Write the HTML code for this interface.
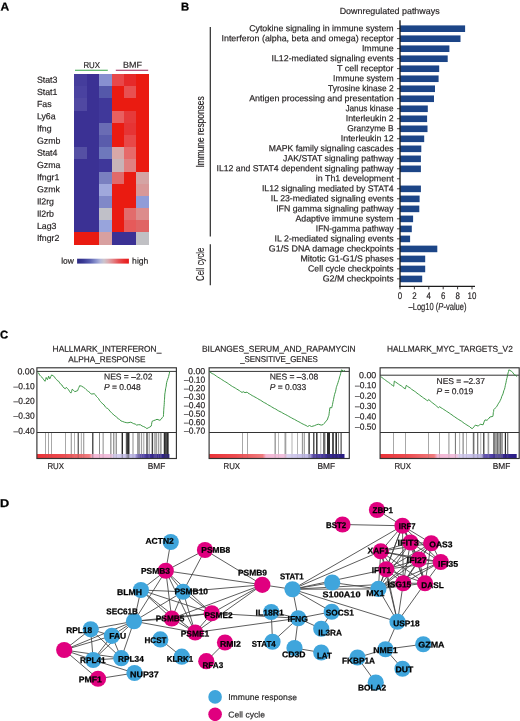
<!DOCTYPE html>
<html lang="en">
<head>
<meta charset="utf-8">
<title>Figure</title>
<style>
html,body{margin:0;padding:0;background:#fff;}
body{width:520px;height:721px;overflow:hidden;}
svg{display:block;font-family:"Liberation Sans",sans-serif;}
text{stroke:#231f20;stroke-width:.18px;}
text[font-weight=bold],g[font-weight=bold] text{stroke:#000;stroke-width:.25px;}
</style>
</head>
<body>
<svg width="520" height="721" viewBox="0 0 520 721">
<rect width="520" height="721" fill="#fff"/>
<defs>
<linearGradient id="cb" x1="0" x2="1" y1="0" y2="0">
<stop offset="0" stop-color="#ea3238"/><stop offset="0.2" stop-color="#ec4c50"/><stop offset="0.395" stop-color="#f07c7e"/><stop offset="0.42" stop-color="#f4b6d2"/><stop offset="0.56" stop-color="#f0c0de"/><stop offset="0.58" stop-color="#d8d0f0"/><stop offset="0.74" stop-color="#bcb6e4"/><stop offset="0.765" stop-color="#6858b6"/><stop offset="0.86" stop-color="#3c2c9a"/><stop offset="1" stop-color="#2a1c86"/>
</linearGradient>
<linearGradient id="lg" x1="0" x2="1" y1="0" y2="0">
<stop offset="0" stop-color="#2a2880"/><stop offset="0.12" stop-color="#3a3a96"/><stop offset="0.25" stop-color="#5a60b0"/><stop offset="0.36" stop-color="#8890cc"/><stop offset="0.45" stop-color="#b4b8da"/><stop offset="0.52" stop-color="#ccc4cc"/><stop offset="0.6" stop-color="#dcaab0"/><stop offset="0.7" stop-color="#e28084"/><stop offset="0.8" stop-color="#e65054"/><stop offset="0.9" stop-color="#e83030"/><stop offset="1" stop-color="#e8181a"/>
</linearGradient>
</defs>
<g id="panelA">
<text x="0.4" y="10.5" font-size="11.3" font-weight="bold" textLength="8.7" lengthAdjust="spacingAndGlyphs" fill="#000" transform="rotate(0.03 0.4 10.5)">A</text>
<text x="83.4" y="67.7" font-size="8.5" textLength="16.6" lengthAdjust="spacingAndGlyphs" fill="#231f20" transform="rotate(0.03 83.4 67.7)">RUX</text>
<text x="123" y="67.7" font-size="8.5" textLength="18.9" lengthAdjust="spacingAndGlyphs" fill="#231f20" transform="rotate(0.03 123 67.7)">BMF</text>
<line x1="75" y1="70.3" x2="107.8" y2="70.3" stroke="#36a546" stroke-width="1.1"/>
<line x1="115.8" y1="70.3" x2="148.2" y2="70.3" stroke="#9e1c50" stroke-width="1.1"/>
<g shape-rendering="crispEdges">
<rect x="74.10" y="74.10" width="12.77" height="12.48" fill="#453d9c"/>
<rect x="86.57" y="74.10" width="12.77" height="12.48" fill="#3b3194"/>
<rect x="99.04" y="74.10" width="12.77" height="12.48" fill="#8890d0"/>
<rect x="111.51" y="74.10" width="12.77" height="12.48" fill="#e8484a"/>
<rect x="123.98" y="74.10" width="12.77" height="12.48" fill="#e62a2a"/>
<rect x="136.45" y="74.10" width="12.77" height="12.48" fill="#ea1b11"/>
<rect x="74.10" y="86.28" width="12.77" height="12.48" fill="#4a42a0"/>
<rect x="86.57" y="86.28" width="12.77" height="12.48" fill="#3b3194"/>
<rect x="99.04" y="86.28" width="12.77" height="12.48" fill="#5558aa"/>
<rect x="111.51" y="86.28" width="12.77" height="12.48" fill="#ea1b11"/>
<rect x="123.98" y="86.28" width="12.77" height="12.48" fill="#e85050"/>
<rect x="136.45" y="86.28" width="12.77" height="12.48" fill="#ea1b11"/>
<rect x="74.10" y="98.46" width="12.77" height="12.48" fill="#5048a2"/>
<rect x="86.57" y="98.46" width="12.77" height="12.48" fill="#3b3194"/>
<rect x="99.04" y="98.46" width="12.77" height="12.48" fill="#40389a"/>
<rect x="111.51" y="98.46" width="12.77" height="12.48" fill="#ea1b11"/>
<rect x="123.98" y="98.46" width="12.77" height="12.48" fill="#ea1b11"/>
<rect x="136.45" y="98.46" width="12.77" height="12.48" fill="#ea1b11"/>
<rect x="74.10" y="110.64" width="12.77" height="12.48" fill="#3b3194"/>
<rect x="86.57" y="110.64" width="12.77" height="12.48" fill="#3b3194"/>
<rect x="99.04" y="110.64" width="12.77" height="12.48" fill="#40389a"/>
<rect x="111.51" y="110.64" width="12.77" height="12.48" fill="#e86060"/>
<rect x="123.98" y="110.64" width="12.77" height="12.48" fill="#e63a3a"/>
<rect x="136.45" y="110.64" width="12.77" height="12.48" fill="#ea1b11"/>
<rect x="74.10" y="122.82" width="12.77" height="12.48" fill="#3b3194"/>
<rect x="86.57" y="122.82" width="12.77" height="12.48" fill="#3b3194"/>
<rect x="99.04" y="122.82" width="12.77" height="12.48" fill="#6a6cb4"/>
<rect x="111.51" y="122.82" width="12.77" height="12.48" fill="#ea1b11"/>
<rect x="123.98" y="122.82" width="12.77" height="12.48" fill="#e63434"/>
<rect x="136.45" y="122.82" width="12.77" height="12.48" fill="#ea1b11"/>
<rect x="74.10" y="135.00" width="12.77" height="12.48" fill="#3b3194"/>
<rect x="86.57" y="135.00" width="12.77" height="12.48" fill="#3b3194"/>
<rect x="99.04" y="135.00" width="12.77" height="12.48" fill="#5a5cac"/>
<rect x="111.51" y="135.00" width="12.77" height="12.48" fill="#ea1b11"/>
<rect x="123.98" y="135.00" width="12.77" height="12.48" fill="#e84848"/>
<rect x="136.45" y="135.00" width="12.77" height="12.48" fill="#ea1b11"/>
<rect x="74.10" y="147.18" width="12.77" height="12.48" fill="#5550a4"/>
<rect x="86.57" y="147.18" width="12.77" height="12.48" fill="#3b3194"/>
<rect x="99.04" y="147.18" width="12.77" height="12.48" fill="#6e78bc"/>
<rect x="111.51" y="147.18" width="12.77" height="12.48" fill="#d8a8a8"/>
<rect x="123.98" y="147.18" width="12.77" height="12.48" fill="#e66a6a"/>
<rect x="136.45" y="147.18" width="12.77" height="12.48" fill="#ea1b11"/>
<rect x="74.10" y="159.36" width="12.77" height="12.48" fill="#3b3194"/>
<rect x="86.57" y="159.36" width="12.77" height="12.48" fill="#3b3194"/>
<rect x="99.04" y="159.36" width="12.77" height="12.48" fill="#3f379a"/>
<rect x="111.51" y="159.36" width="12.77" height="12.48" fill="#c8b4b8"/>
<rect x="123.98" y="159.36" width="12.77" height="12.48" fill="#e08080"/>
<rect x="136.45" y="159.36" width="12.77" height="12.48" fill="#ea1b11"/>
<rect x="74.10" y="171.54" width="12.77" height="12.48" fill="#3b3194"/>
<rect x="86.57" y="171.54" width="12.77" height="12.48" fill="#3b3194"/>
<rect x="99.04" y="171.54" width="12.77" height="12.48" fill="#7a80c0"/>
<rect x="111.51" y="171.54" width="12.77" height="12.48" fill="#e06a6a"/>
<rect x="123.98" y="171.54" width="12.77" height="12.48" fill="#ea1b11"/>
<rect x="136.45" y="171.54" width="12.77" height="12.48" fill="#d4a4a4"/>
<rect x="74.10" y="183.72" width="12.77" height="12.48" fill="#3b3194"/>
<rect x="86.57" y="183.72" width="12.77" height="12.48" fill="#3b3194"/>
<rect x="99.04" y="183.72" width="12.77" height="12.48" fill="#a0a8dc"/>
<rect x="111.51" y="183.72" width="12.77" height="12.48" fill="#ea1b11"/>
<rect x="123.98" y="183.72" width="12.77" height="12.48" fill="#ea1b11"/>
<rect x="136.45" y="183.72" width="12.77" height="12.48" fill="#d89898"/>
<rect x="74.10" y="195.90" width="12.77" height="12.48" fill="#3b3194"/>
<rect x="86.57" y="195.90" width="12.77" height="12.48" fill="#3b3194"/>
<rect x="99.04" y="195.90" width="12.77" height="12.48" fill="#8088c8"/>
<rect x="111.51" y="195.90" width="12.77" height="12.48" fill="#ea1b11"/>
<rect x="123.98" y="195.90" width="12.77" height="12.48" fill="#ea1b11"/>
<rect x="136.45" y="195.90" width="12.77" height="12.48" fill="#909cd8"/>
<rect x="74.10" y="208.08" width="12.77" height="12.48" fill="#3b3194"/>
<rect x="86.57" y="208.08" width="12.77" height="12.48" fill="#3b3194"/>
<rect x="99.04" y="208.08" width="12.77" height="12.48" fill="#c0c0c8"/>
<rect x="111.51" y="208.08" width="12.77" height="12.48" fill="#ea1b11"/>
<rect x="123.98" y="208.08" width="12.77" height="12.48" fill="#e26c6c"/>
<rect x="136.45" y="208.08" width="12.77" height="12.48" fill="#dc8c8c"/>
<rect x="74.10" y="220.26" width="12.77" height="12.48" fill="#3b3194"/>
<rect x="86.57" y="220.26" width="12.77" height="12.48" fill="#3b3194"/>
<rect x="99.04" y="220.26" width="12.77" height="12.48" fill="#98a4dc"/>
<rect x="111.51" y="220.26" width="12.77" height="12.48" fill="#ea1b11"/>
<rect x="123.98" y="220.26" width="12.77" height="12.48" fill="#e65a5a"/>
<rect x="136.45" y="220.26" width="12.77" height="12.48" fill="#e06464"/>
<rect x="74.10" y="232.44" width="12.77" height="12.48" fill="#ea1b11"/>
<rect x="86.57" y="232.44" width="12.77" height="12.48" fill="#ea1b11"/>
<rect x="99.04" y="232.44" width="12.77" height="12.48" fill="#d8a0a0"/>
<rect x="111.51" y="232.44" width="12.77" height="12.48" fill="#3b3194"/>
<rect x="123.98" y="232.44" width="12.77" height="12.48" fill="#3b3194"/>
<rect x="136.45" y="232.44" width="12.77" height="12.48" fill="#c0c0c4"/>
</g>
<text x="36.9" y="82.75" font-size="8.8" fill="#231f20" transform="rotate(0.03 36.9 82.75)">Stat3</text>
<text x="36.9" y="94.93" font-size="8.8" fill="#231f20" transform="rotate(0.03 36.9 94.93)">Stat1</text>
<text x="36.9" y="107.11" font-size="8.8" fill="#231f20" transform="rotate(0.03 36.9 107.11)">Fas</text>
<text x="36.9" y="119.29" font-size="8.8" fill="#231f20" transform="rotate(0.03 36.9 119.29)">Ly6a</text>
<text x="36.9" y="131.47" font-size="8.8" fill="#231f20" transform="rotate(0.03 36.9 131.47)">Ifng</text>
<text x="36.9" y="143.65" font-size="8.8" fill="#231f20" transform="rotate(0.03 36.9 143.65)">Gzmb</text>
<text x="36.9" y="155.83" font-size="8.8" fill="#231f20" transform="rotate(0.03 36.9 155.83)">Stat4</text>
<text x="36.9" y="168.01" font-size="8.8" fill="#231f20" transform="rotate(0.03 36.9 168.01)">Gzma</text>
<text x="36.9" y="180.19" font-size="8.8" fill="#231f20" transform="rotate(0.03 36.9 180.19)">Ifngr1</text>
<text x="36.9" y="192.37" font-size="8.8" fill="#231f20" transform="rotate(0.03 36.9 192.37)">Gzmk</text>
<text x="36.9" y="204.55" font-size="8.8" fill="#231f20" transform="rotate(0.03 36.9 204.55)">Il2rg</text>
<text x="36.9" y="216.73" font-size="8.8" fill="#231f20" transform="rotate(0.03 36.9 216.73)">Il2rb</text>
<text x="36.9" y="228.91" font-size="8.8" fill="#231f20" transform="rotate(0.03 36.9 228.91)">Lag3</text>
<text x="36.9" y="241.09" font-size="8.8" fill="#231f20" transform="rotate(0.03 36.9 241.09)">Ifngr2</text>
<text x="61.2" y="263.7" font-size="8.6" textLength="12.7" lengthAdjust="spacingAndGlyphs" fill="#231f20" transform="rotate(0.03 61.2 263.7)">low</text>
<text x="132.1" y="263.7" font-size="8.6" textLength="16.3" lengthAdjust="spacingAndGlyphs" fill="#231f20" transform="rotate(0.03 132.1 263.7)">high</text>
<rect x="77.1" y="258.7" width="51.8" height="4.9" fill="url(#lg)"/>
</g>
<g id="panelB">
<text x="181.0" y="10.5" font-size="11.3" font-weight="bold" fill="#000" transform="rotate(0.03 181.0 10.5)">B</text>
<text x="339.7" y="14.0" font-size="8.8" textLength="99.9" lengthAdjust="spacingAndGlyphs" fill="#231f20" transform="rotate(0.03 339.7 14.0)">Downregulated pathways</text>
<text x="249.2" y="31.2" font-size="8.8" textLength="144.4" lengthAdjust="spacingAndGlyphs" fill="#231f20" transform="rotate(0.03 249.2 31.2)">Cytokine signaling in immune system</text>
<line x1="397" y1="28.60" x2="400" y2="28.60" stroke="#231f20" stroke-width="0.8"/>
<rect x="400" y="25.40" width="65.10" height="6.6" fill="#1c4587"/>
<text x="221.5" y="41.21" font-size="8.8" textLength="172.1" lengthAdjust="spacingAndGlyphs" fill="#231f20" transform="rotate(0.03 221.5 41.21)">Interferon (alpha, beta and omega) receptor</text>
<line x1="397" y1="38.61" x2="400" y2="38.61" stroke="#231f20" stroke-width="0.8"/>
<rect x="400" y="35.41" width="60.50" height="6.6" fill="#1c4587"/>
<text x="361.9" y="51.22" font-size="8.8" textLength="31.7" lengthAdjust="spacingAndGlyphs" fill="#231f20" transform="rotate(0.03 361.9 51.22)">Immune</text>
<line x1="397" y1="48.62" x2="400" y2="48.62" stroke="#231f20" stroke-width="0.8"/>
<rect x="400" y="45.42" width="49.40" height="6.6" fill="#1c4587"/>
<text x="271.5" y="61.23" font-size="8.8" textLength="122.1" lengthAdjust="spacingAndGlyphs" fill="#231f20" transform="rotate(0.03 271.5 61.23)">IL12-mediated signaling events</text>
<line x1="397" y1="58.63" x2="400" y2="58.63" stroke="#231f20" stroke-width="0.8"/>
<rect x="400" y="55.43" width="47.70" height="6.6" fill="#1c4587"/>
<text x="336.9" y="71.24" font-size="8.8" textLength="56.7" lengthAdjust="spacingAndGlyphs" fill="#231f20" transform="rotate(0.03 336.9 71.24)">T cell receptor</text>
<line x1="397" y1="68.64" x2="400" y2="68.64" stroke="#231f20" stroke-width="0.8"/>
<rect x="400" y="65.44" width="39.20" height="6.6" fill="#1c4587"/>
<text x="333.1" y="81.25" font-size="8.8" textLength="60.5" lengthAdjust="spacingAndGlyphs" fill="#231f20" transform="rotate(0.03 333.1 81.25)">Immune system</text>
<line x1="397" y1="78.65" x2="400" y2="78.65" stroke="#231f20" stroke-width="0.8"/>
<rect x="400" y="75.45" width="38.60" height="6.6" fill="#1c4587"/>
<text x="328.1" y="91.26" font-size="8.8" textLength="65.5" lengthAdjust="spacingAndGlyphs" fill="#231f20" transform="rotate(0.03 328.1 91.26)">Tyrosine kinase 2</text>
<line x1="397" y1="88.66" x2="400" y2="88.66" stroke="#231f20" stroke-width="0.8"/>
<rect x="400" y="85.46" width="35.00" height="6.6" fill="#1c4587"/>
<text x="249.2" y="101.27" font-size="8.8" textLength="144.4" lengthAdjust="spacingAndGlyphs" fill="#231f20" transform="rotate(0.03 249.2 101.27)">Antigen processing and presentation</text>
<line x1="397" y1="98.67" x2="400" y2="98.67" stroke="#231f20" stroke-width="0.8"/>
<rect x="400" y="95.47" width="34.00" height="6.6" fill="#1c4587"/>
<text x="345.4" y="111.28" font-size="8.8" textLength="48.2" lengthAdjust="spacingAndGlyphs" fill="#231f20" transform="rotate(0.03 345.4 111.28)">Janus kinase</text>
<line x1="397" y1="108.68" x2="400" y2="108.68" stroke="#231f20" stroke-width="0.8"/>
<rect x="400" y="105.48" width="27.80" height="6.6" fill="#1c4587"/>
<text x="345.8" y="121.29" font-size="8.8" textLength="47.8" lengthAdjust="spacingAndGlyphs" fill="#231f20" transform="rotate(0.03 345.8 121.29)">Interleukin 2</text>
<line x1="397" y1="118.69" x2="400" y2="118.69" stroke="#231f20" stroke-width="0.8"/>
<rect x="400" y="115.49" width="27.10" height="6.6" fill="#1c4587"/>
<text x="347.3" y="131.3" font-size="8.8" textLength="46.3" lengthAdjust="spacingAndGlyphs" fill="#231f20" transform="rotate(0.03 347.3 131.3)">Granzyme B</text>
<line x1="397" y1="128.70" x2="400" y2="128.70" stroke="#231f20" stroke-width="0.8"/>
<rect x="400" y="125.50" width="27.50" height="6.6" fill="#1c4587"/>
<text x="340.8" y="141.31" font-size="8.8" textLength="52.8" lengthAdjust="spacingAndGlyphs" fill="#231f20" transform="rotate(0.03 340.8 141.31)">Interleukin 12</text>
<line x1="397" y1="138.71" x2="400" y2="138.71" stroke="#231f20" stroke-width="0.8"/>
<rect x="400" y="135.51" width="24.20" height="6.6" fill="#1c4587"/>
<text x="268.8" y="151.32" font-size="8.8" textLength="124.8" lengthAdjust="spacingAndGlyphs" fill="#231f20" transform="rotate(0.03 268.8 151.32)">MAPK family signaling cascades</text>
<line x1="397" y1="148.72" x2="400" y2="148.72" stroke="#231f20" stroke-width="0.8"/>
<rect x="400" y="145.52" width="21.30" height="6.6" fill="#1c4587"/>
<text x="283.1" y="161.33" font-size="8.8" textLength="110.5" lengthAdjust="spacingAndGlyphs" fill="#231f20" transform="rotate(0.03 283.1 161.33)">JAK/STAT signaling pathway</text>
<line x1="397" y1="158.73" x2="400" y2="158.73" stroke="#231f20" stroke-width="0.8"/>
<rect x="400" y="155.53" width="20.90" height="6.6" fill="#1c4587"/>
<text x="216.5" y="171.34" font-size="8.8" textLength="177.1" lengthAdjust="spacingAndGlyphs" fill="#231f20" transform="rotate(0.03 216.5 171.34)">IL12 and STAT4 dependent signaling pathway</text>
<line x1="397" y1="168.74" x2="400" y2="168.74" stroke="#231f20" stroke-width="0.8"/>
<rect x="400" y="165.54" width="20.90" height="6.6" fill="#1c4587"/>
<text x="315.8" y="181.35" font-size="8.8" textLength="77.8" lengthAdjust="spacingAndGlyphs" fill="#231f20" transform="rotate(0.03 315.8 181.35)">in Th1 development</text>
<line x1="397" y1="178.75" x2="400" y2="178.75" stroke="#231f20" stroke-width="0.8"/>
<text x="261.9" y="191.36" font-size="8.8" textLength="131.7" lengthAdjust="spacingAndGlyphs" fill="#231f20" transform="rotate(0.03 261.9 191.36)">IL12 signaling mediated by STAT4</text>
<line x1="397" y1="188.76" x2="400" y2="188.76" stroke="#231f20" stroke-width="0.8"/>
<rect x="400" y="185.56" width="20.90" height="6.6" fill="#1c4587"/>
<text x="270.8" y="201.37" font-size="8.8" textLength="122.8" lengthAdjust="spacingAndGlyphs" fill="#231f20" transform="rotate(0.03 270.8 201.37)">IL 23-mediated signaling events</text>
<line x1="397" y1="198.77" x2="400" y2="198.77" stroke="#231f20" stroke-width="0.8"/>
<rect x="400" y="195.57" width="19.60" height="6.6" fill="#1c4587"/>
<text x="276.2" y="211.38" font-size="8.8" textLength="117.4" lengthAdjust="spacingAndGlyphs" fill="#231f20" transform="rotate(0.03 276.2 211.38)">IFN gamma signaling pathway</text>
<line x1="397" y1="208.78" x2="400" y2="208.78" stroke="#231f20" stroke-width="0.8"/>
<rect x="400" y="205.58" width="19.30" height="6.6" fill="#1c4587"/>
<text x="295.4" y="221.39" font-size="8.8" textLength="98.2" lengthAdjust="spacingAndGlyphs" fill="#231f20" transform="rotate(0.03 295.4 221.39)">Adaptive immune system</text>
<line x1="397" y1="218.79" x2="400" y2="218.79" stroke="#231f20" stroke-width="0.8"/>
<rect x="400" y="215.59" width="13.10" height="6.6" fill="#1c4587"/>
<text x="315.8" y="231.4" font-size="8.8" textLength="77.8" lengthAdjust="spacingAndGlyphs" fill="#231f20" transform="rotate(0.03 315.8 231.4)">IFN-gamma pathway</text>
<line x1="397" y1="228.80" x2="400" y2="228.80" stroke="#231f20" stroke-width="0.8"/>
<rect x="400" y="225.60" width="11.80" height="6.6" fill="#1c4587"/>
<text x="274.6" y="241.41" font-size="8.8" textLength="119.0" lengthAdjust="spacingAndGlyphs" fill="#231f20" transform="rotate(0.03 274.6 241.41)">IL 2-mediated signaling events</text>
<line x1="397" y1="238.81" x2="400" y2="238.81" stroke="#231f20" stroke-width="0.8"/>
<rect x="400" y="235.61" width="10.10" height="6.6" fill="#1c4587"/>
<text x="268.8" y="251.42" font-size="8.8" textLength="124.8" lengthAdjust="spacingAndGlyphs" fill="#231f20" transform="rotate(0.03 268.8 251.42)">G1/S DNA damage checkpoints</text>
<line x1="397" y1="248.82" x2="400" y2="248.82" stroke="#231f20" stroke-width="0.8"/>
<rect x="400" y="245.62" width="37.30" height="6.6" fill="#1c4587"/>
<text x="300.4" y="261.43" font-size="8.8" textLength="93.2" lengthAdjust="spacingAndGlyphs" fill="#231f20" transform="rotate(0.03 300.4 261.43)">Mitotic G1-G1/S phases</text>
<line x1="397" y1="258.83" x2="400" y2="258.83" stroke="#231f20" stroke-width="0.8"/>
<rect x="400" y="255.63" width="25.20" height="6.6" fill="#1c4587"/>
<text x="308.1" y="271.44" font-size="8.8" textLength="85.5" lengthAdjust="spacingAndGlyphs" fill="#231f20" transform="rotate(0.03 308.1 271.44)">Cell cycle checkpoints</text>
<line x1="397" y1="268.84" x2="400" y2="268.84" stroke="#231f20" stroke-width="0.8"/>
<rect x="400" y="265.64" width="25.20" height="6.6" fill="#1c4587"/>
<text x="322.7" y="281.45" font-size="8.8" textLength="70.9" lengthAdjust="spacingAndGlyphs" fill="#231f20" transform="rotate(0.03 322.7 281.45)">G2/M checkpoints</text>
<line x1="397" y1="278.85" x2="400" y2="278.85" stroke="#231f20" stroke-width="0.8"/>
<rect x="400" y="275.65" width="22.20" height="6.6" fill="#1c4587"/>
<line x1="400" y1="20.3" x2="400" y2="287.3" stroke="#1c1c1c" stroke-width="1.35"/>
<line x1="399.4" y1="286.4" x2="475" y2="286.4" stroke="#1c1c1c" stroke-width="1.35"/>
<line x1="400.0" y1="286.4" x2="400.0" y2="289.3" stroke="#231f20" stroke-width="0.9"/>
<text x="397.8" y="299.1" font-size="9.6" textLength="4.4" lengthAdjust="spacingAndGlyphs" fill="#231f20" transform="rotate(0.03 397.8 299.1)">0</text>
<line x1="414.4" y1="286.4" x2="414.4" y2="289.3" stroke="#231f20" stroke-width="0.9"/>
<text x="412.2" y="299.1" font-size="9.6" textLength="4.4" lengthAdjust="spacingAndGlyphs" fill="#231f20" transform="rotate(0.03 412.2 299.1)">2</text>
<line x1="428.8" y1="286.4" x2="428.8" y2="289.3" stroke="#231f20" stroke-width="0.9"/>
<text x="426.6" y="299.1" font-size="9.6" textLength="4.4" lengthAdjust="spacingAndGlyphs" fill="#231f20" transform="rotate(0.03 426.6 299.1)">4</text>
<line x1="443.2" y1="286.4" x2="443.2" y2="289.3" stroke="#231f20" stroke-width="0.9"/>
<text x="441.0" y="299.1" font-size="9.6" textLength="4.4" lengthAdjust="spacingAndGlyphs" fill="#231f20" transform="rotate(0.03 441.0 299.1)">6</text>
<line x1="457.6" y1="286.4" x2="457.6" y2="289.3" stroke="#231f20" stroke-width="0.9"/>
<text x="455.4" y="299.1" font-size="9.6" textLength="4.4" lengthAdjust="spacingAndGlyphs" fill="#231f20" transform="rotate(0.03 455.4 299.1)">8</text>
<line x1="472.0" y1="286.4" x2="472.0" y2="289.3" stroke="#231f20" stroke-width="0.9"/>
<text x="467.6" y="299.1" font-size="9.6" textLength="8.8" lengthAdjust="spacingAndGlyphs" fill="#231f20" transform="rotate(0.03 467.6 299.1)">10</text>
<text x="408.5" y="310.2" font-size="10.2" fill="#231f20" transform="rotate(0.03 408 310)" textLength="58" lengthAdjust="spacingAndGlyphs">–Log10 (<tspan font-style="italic">P</tspan>-value)</text>
<line x1="210.3" y1="27" x2="210.3" y2="236.6" stroke="#2a2a2a" stroke-width="1.2"/>
<line x1="210.3" y1="244.3" x2="210.3" y2="285.3" stroke="#2a2a2a" stroke-width="1.2"/>
<text font-size="10.2" fill="#231f20" transform="translate(204.1 167.6) rotate(-90)" textLength="71.2" lengthAdjust="spacingAndGlyphs">Immune responses</text>
<text font-size="10.2" fill="#231f20" transform="translate(204.1 280.9) rotate(-90)" textLength="33.3" lengthAdjust="spacingAndGlyphs">Cell cycle</text>
</g>
<g id="panelC">
<text x="0.1" y="338.4" font-size="11.3" font-weight="bold" fill="#000" transform="rotate(0.03 0.1 338.4)">C</text>
<text x="52.6" y="351.8" font-size="8.5" textLength="108.7" lengthAdjust="spacingAndGlyphs" fill="#231f20" transform="rotate(0.03 52.6 351.8)">HALLMARK_INTERFERON_</text>
<text x="68.2" y="362.2" font-size="8.5" textLength="77.2" lengthAdjust="spacingAndGlyphs" fill="#231f20" transform="rotate(0.03 68.2 362.2)">ALPHA_RESPONSE</text>
<rect x="45.10" y="432.5" width="0.60" height="22" fill="#6e6e6e"/>
<rect x="48.20" y="432.5" width="0.60" height="22" fill="#6e6e6e"/>
<rect x="51.20" y="432.5" width="0.60" height="22" fill="#6e6e6e"/>
<rect x="65.10" y="432.5" width="0.60" height="22" fill="#6e6e6e"/>
<rect x="70.80" y="432.5" width="0.80" height="22" fill="#6e6e6e"/>
<rect x="74.20" y="432.5" width="0.80" height="22" fill="#a0a0a0"/>
<rect x="77.70" y="432.5" width="1.00" height="22" fill="#2b2b2b"/>
<rect x="80.90" y="432.5" width="0.60" height="22" fill="#6e6e6e"/>
<rect x="83.40" y="432.5" width="0.80" height="22" fill="#6e6e6e"/>
<rect x="92.20" y="432.5" width="1.20" height="22" fill="#2b2b2b"/>
<rect x="99.10" y="432.5" width="0.80" height="22" fill="#6e6e6e"/>
<rect x="102.70" y="432.5" width="0.80" height="22" fill="#6e6e6e"/>
<rect x="110.05" y="432.5" width="1.50" height="22" fill="#a0a0a0"/>
<rect x="113.30" y="432.5" width="1.00" height="22" fill="#6e6e6e"/>
<rect x="115.70" y="432.5" width="1.00" height="22" fill="#6e6e6e"/>
<rect x="121.60" y="432.5" width="1.40" height="22" fill="#2b2b2b"/>
<rect x="125.80" y="432.5" width="3.80" height="22" fill="#555555"/>
<rect x="127.40" y="432.5" width="1.60" height="22" fill="#2b2b2b"/>
<rect x="132.60" y="432.5" width="0.80" height="22" fill="#6e6e6e"/>
<rect x="137.00" y="432.5" width="3.00" height="22" fill="#a0a0a0"/>
<rect x="140.90" y="432.5" width="1.20" height="22" fill="#a0a0a0"/>
<rect x="143.30" y="432.5" width="1.00" height="22" fill="#a0a0a0"/>
<rect x="146.40" y="432.5" width="1.20" height="22" fill="#2b2b2b"/>
<rect x="148.60" y="432.5" width="1.20" height="22" fill="#a0a0a0"/>
<rect x="151.70" y="432.5" width="1.20" height="22" fill="#2b2b2b"/>
<rect x="153.80" y="432.5" width="1.00" height="22" fill="#a0a0a0"/>
<rect x="155.20" y="432.5" width="2.00" height="22" fill="#a0a0a0"/>
<rect x="158.00" y="432.5" width="1.00" height="22" fill="#a0a0a0"/>
<rect x="159.70" y="432.5" width="2.00" height="22" fill="#a0a0a0"/>
<rect x="163.80" y="432.5" width="4.80" height="22" fill="#555555"/>
<rect x="163.90" y="432.5" width="1.40" height="22" fill="#2b2b2b"/>
<rect x="166.90" y="432.5" width="1.40" height="22" fill="#2b2b2b"/>
<rect x="36.9" y="454" width="132.50" height="4.6" fill="url(#cb)"/>
<rect x="45.10" y="454" width="0.60" height="4.5" fill="#6e6e6e" opacity="0.28"/>
<rect x="48.20" y="454" width="0.60" height="4.5" fill="#6e6e6e" opacity="0.28"/>
<rect x="51.20" y="454" width="0.60" height="4.5" fill="#6e6e6e" opacity="0.28"/>
<rect x="65.10" y="454" width="0.60" height="4.5" fill="#6e6e6e" opacity="0.28"/>
<rect x="70.80" y="454" width="0.80" height="4.5" fill="#6e6e6e" opacity="0.28"/>
<rect x="74.20" y="454" width="0.80" height="4.5" fill="#a0a0a0" opacity="0.28"/>
<rect x="77.70" y="454" width="1.00" height="4.5" fill="#2b2b2b" opacity="0.28"/>
<rect x="80.90" y="454" width="0.60" height="4.5" fill="#6e6e6e" opacity="0.28"/>
<rect x="83.40" y="454" width="0.80" height="4.5" fill="#6e6e6e" opacity="0.28"/>
<rect x="92.20" y="454" width="1.20" height="4.5" fill="#2b2b2b" opacity="0.28"/>
<rect x="99.10" y="454" width="0.80" height="4.5" fill="#6e6e6e" opacity="0.28"/>
<rect x="102.70" y="454" width="0.80" height="4.5" fill="#6e6e6e" opacity="0.28"/>
<rect x="110.05" y="454" width="1.50" height="4.5" fill="#a0a0a0" opacity="0.28"/>
<rect x="113.30" y="454" width="1.00" height="4.5" fill="#6e6e6e" opacity="0.28"/>
<rect x="115.70" y="454" width="1.00" height="4.5" fill="#6e6e6e" opacity="0.28"/>
<rect x="121.60" y="454" width="1.40" height="4.5" fill="#2b2b2b" opacity="0.28"/>
<rect x="125.80" y="454" width="3.80" height="4.5" fill="#555555" opacity="0.28"/>
<rect x="127.40" y="454" width="1.60" height="4.5" fill="#2b2b2b" opacity="0.28"/>
<rect x="132.60" y="454" width="0.80" height="4.5" fill="#6e6e6e" opacity="0.28"/>
<rect x="137.00" y="454" width="3.00" height="4.5" fill="#a0a0a0" opacity="0.28"/>
<rect x="140.90" y="454" width="1.20" height="4.5" fill="#a0a0a0" opacity="0.28"/>
<rect x="143.30" y="454" width="1.00" height="4.5" fill="#a0a0a0" opacity="0.28"/>
<rect x="146.40" y="454" width="1.20" height="4.5" fill="#2b2b2b" opacity="0.28"/>
<rect x="148.60" y="454" width="1.20" height="4.5" fill="#a0a0a0" opacity="0.28"/>
<rect x="151.70" y="454" width="1.20" height="4.5" fill="#2b2b2b" opacity="0.28"/>
<rect x="153.80" y="454" width="1.00" height="4.5" fill="#a0a0a0" opacity="0.28"/>
<rect x="155.20" y="454" width="2.00" height="4.5" fill="#a0a0a0" opacity="0.28"/>
<rect x="158.00" y="454" width="1.00" height="4.5" fill="#a0a0a0" opacity="0.28"/>
<rect x="159.70" y="454" width="2.00" height="4.5" fill="#a0a0a0" opacity="0.28"/>
<rect x="163.80" y="454" width="4.80" height="4.5" fill="#555555" opacity="0.28"/>
<rect x="163.90" y="454" width="1.40" height="4.5" fill="#2b2b2b" opacity="0.28"/>
<rect x="166.90" y="454" width="1.40" height="4.5" fill="#2b2b2b" opacity="0.28"/>
<rect x="36.9" y="367.8" width="139.50" height="90.7" fill="none" stroke="#333" stroke-width="1.15"/>
<line x1="36.9" y1="432.5" x2="176.4" y2="432.5" stroke="#333" stroke-width="1.15"/>
<line x1="36.9" y1="371.4" x2="176.4" y2="371.4" stroke="#333" stroke-width="1.0"/>
<text x="17.4" y="374.45" font-size="8.8" textLength="17.3" lengthAdjust="spacingAndGlyphs" fill="#231f20" transform="rotate(0.03 17.4 374.45)">0.00</text>
<text x="13.5" y="389.35" font-size="8.8" textLength="21.2" lengthAdjust="spacingAndGlyphs" fill="#231f20" transform="rotate(0.03 13.5 389.35)">–0.10</text>
<text x="13.5" y="403.95" font-size="8.8" textLength="21.2" lengthAdjust="spacingAndGlyphs" fill="#231f20" transform="rotate(0.03 13.5 403.95)">–0.20</text>
<text x="13.5" y="418.85" font-size="8.8" textLength="21.2" lengthAdjust="spacingAndGlyphs" fill="#231f20" transform="rotate(0.03 13.5 418.85)">–0.30</text>
<text x="13.5" y="434.05" font-size="8.8" textLength="21.2" lengthAdjust="spacingAndGlyphs" fill="#231f20" transform="rotate(0.03 13.5 434.05)">–0.40</text>
<polyline points="37.5,372.0 38.6,373.0 39.6,375.0 40.7,376.2 41.8,377.1 42.9,378.6 43.9,379.9 45.0,381.3 45.6,379.5 46.2,377.5 47.4,379.7 48.0,378.2 48.6,376.2 49.8,378.8 50.8,376.5 51.7,374.9 53.2,375.9 54.3,376.6 55.4,378.5 56.5,379.4 57.6,380.8 58.7,381.3 59.7,382.9 60.8,384.3 61.9,385.0 63.0,386.9 64.1,388.0 65.2,388.8 66.2,387.4 67.4,388.4 68.6,389.8 69.7,391.7 70.9,393.1 71.6,391.5 72.2,389.2 73.5,390.3 74.8,391.7 77.7,390.6 78.3,388.7 79.0,387.3 79.6,385.7 81.5,386.1 83.5,387.3 84.8,388.2 86.1,389.5 87.4,390.7 88.7,391.6 90.0,392.7 91.3,394.1 94.2,393.7 95.3,394.7 96.3,396.3 97.4,397.4 98.5,398.5 99.6,400.5 100.6,401.6 101.7,402.8 102.9,404.1 104.1,404.9 105.3,406.9 106.6,408.0 107.8,408.5 109.0,409.9 110.2,411.5 111.4,412.5 112.8,413.9 114.1,415.3 115.5,416.0 116.9,417.6 118.3,418.7 119.6,419.5 121.0,420.9 122.7,421.5 124.5,422.2 126.2,422.6 127.9,422.8 130.8,422.2 132.2,422.9 133.7,423.7 135.2,424.0 136.6,425.1 138.6,424.7 140.5,424.8 142.1,426.0 143.7,426.6 145.3,427.4 146.9,428.6 148.3,427.8 149.8,427.1 151.2,426.1 151.5,424.7 151.8,422.8 152.1,421.3 153.7,420.6 155.4,420.0 157.0,419.3 159.9,420.3 161.1,419.3 162.2,417.7 163.4,416.4 163.5,414.6 163.6,413.0 163.7,410.8 163.8,409.1 163.9,408.0 164.0,406.5 164.2,404.5 164.3,402.6 164.4,400.7 164.5,399.2 164.6,398.0 164.7,396.1 164.8,394.1 165.1,392.5 165.3,391.1 165.6,388.8 165.9,387.4 166.2,386.2 166.4,384.1 166.7,382.4 167.3,380.4 168.0,378.3 168.6,376.6 168.9,375.0 169.3,373.7 169.6,371.7" fill="none" stroke="#2b8f36" stroke-width="0.9" stroke-linejoin="miter"/>
<text x="104" y="379.59999999999997" font-size="8.5" fill="#231f20" transform="rotate(0.03 104 380.2)">NES = –2.02</text>
<text x="104" y="390.0" font-size="8.5" fill="#231f20" transform="rotate(0.03 104 380.2)"><tspan font-style="italic">P</tspan> = 0.048</text>
<text x="47.4" y="468.9" font-size="8.7" textLength="16.6" lengthAdjust="spacingAndGlyphs" fill="#231f20" transform="rotate(0.03 47.4 468.9)">RUX</text>
<text x="147.8" y="468.9" font-size="8.7" textLength="17.6" lengthAdjust="spacingAndGlyphs" fill="#231f20" transform="rotate(0.03 147.8 468.9)">BMF</text>
<text x="202" y="351.8" font-size="8.5" textLength="153.7" lengthAdjust="spacingAndGlyphs" fill="#231f20" transform="rotate(0.03 202 351.8)">BILANGES_SERUM_AND_RAPAMYCIN</text>
<text x="240.2" y="362.2" font-size="8.5" textLength="77.7" lengthAdjust="spacingAndGlyphs" fill="#231f20" transform="rotate(0.03 240.2 362.2)">_SENSITIVE_GENES</text>
<rect x="242.20" y="432.5" width="0.60" height="22" fill="#6e6e6e"/>
<rect x="247.10" y="432.5" width="0.60" height="22" fill="#6e6e6e"/>
<rect x="274.45" y="432.5" width="1.50" height="22" fill="#a0a0a0"/>
<rect x="278.15" y="432.5" width="0.70" height="22" fill="#a0a0a0"/>
<rect x="284.50" y="432.5" width="1.80" height="22" fill="#a0a0a0"/>
<rect x="291.60" y="432.5" width="0.80" height="22" fill="#a0a0a0"/>
<rect x="297.00" y="432.5" width="0.80" height="22" fill="#a0a0a0"/>
<rect x="301.90" y="432.5" width="0.80" height="22" fill="#6e6e6e"/>
<rect x="303.80" y="432.5" width="0.80" height="22" fill="#6e6e6e"/>
<rect x="308.45" y="432.5" width="1.30" height="22" fill="#2b2b2b"/>
<rect x="313.20" y="432.5" width="1.20" height="22" fill="#2b2b2b"/>
<rect x="316.10" y="432.5" width="1.40" height="22" fill="#2b2b2b"/>
<rect x="320.40" y="432.5" width="0.80" height="22" fill="#a0a0a0"/>
<rect x="323.00" y="432.5" width="2.40" height="22" fill="#6e6e6e"/>
<rect x="327.00" y="432.5" width="3.00" height="22" fill="#2b2b2b"/>
<rect x="332.20" y="432.5" width="1.60" height="22" fill="#2b2b2b"/>
<rect x="335.40" y="432.5" width="1.60" height="22" fill="#2b2b2b"/>
<rect x="338.10" y="432.5" width="0.80" height="22" fill="#6e6e6e"/>
<rect x="340.60" y="432.5" width="1.00" height="22" fill="#2b2b2b"/>
<rect x="209.1" y="454" width="135.40" height="4.6" fill="url(#cb)"/>
<rect x="242.20" y="454" width="0.60" height="4.5" fill="#6e6e6e" opacity="0.28"/>
<rect x="247.10" y="454" width="0.60" height="4.5" fill="#6e6e6e" opacity="0.28"/>
<rect x="274.45" y="454" width="1.50" height="4.5" fill="#a0a0a0" opacity="0.28"/>
<rect x="278.15" y="454" width="0.70" height="4.5" fill="#a0a0a0" opacity="0.28"/>
<rect x="284.50" y="454" width="1.80" height="4.5" fill="#a0a0a0" opacity="0.28"/>
<rect x="291.60" y="454" width="0.80" height="4.5" fill="#a0a0a0" opacity="0.28"/>
<rect x="297.00" y="454" width="0.80" height="4.5" fill="#a0a0a0" opacity="0.28"/>
<rect x="301.90" y="454" width="0.80" height="4.5" fill="#6e6e6e" opacity="0.28"/>
<rect x="303.80" y="454" width="0.80" height="4.5" fill="#6e6e6e" opacity="0.28"/>
<rect x="308.45" y="454" width="1.30" height="4.5" fill="#2b2b2b" opacity="0.28"/>
<rect x="313.20" y="454" width="1.20" height="4.5" fill="#2b2b2b" opacity="0.28"/>
<rect x="316.10" y="454" width="1.40" height="4.5" fill="#2b2b2b" opacity="0.28"/>
<rect x="320.40" y="454" width="0.80" height="4.5" fill="#a0a0a0" opacity="0.28"/>
<rect x="323.00" y="454" width="2.40" height="4.5" fill="#6e6e6e" opacity="0.28"/>
<rect x="327.00" y="454" width="3.00" height="4.5" fill="#2b2b2b" opacity="0.28"/>
<rect x="332.20" y="454" width="1.60" height="4.5" fill="#2b2b2b" opacity="0.28"/>
<rect x="335.40" y="454" width="1.60" height="4.5" fill="#2b2b2b" opacity="0.28"/>
<rect x="338.10" y="454" width="0.80" height="4.5" fill="#6e6e6e" opacity="0.28"/>
<rect x="340.60" y="454" width="1.00" height="4.5" fill="#2b2b2b" opacity="0.28"/>
<rect x="209.1" y="367.8" width="140.20" height="90.7" fill="none" stroke="#333" stroke-width="1.15"/>
<line x1="209.1" y1="432.5" x2="349.3" y2="432.5" stroke="#333" stroke-width="1.15"/>
<line x1="209.1" y1="371.4" x2="349.3" y2="371.4" stroke="#333" stroke-width="1.0"/>
<text x="188.0" y="374.35" font-size="8.8" textLength="17.3" lengthAdjust="spacingAndGlyphs" fill="#231f20" transform="rotate(0.03 188.0 374.35)">0.00</text>
<text x="184.1" y="382.85" font-size="8.8" textLength="21.2" lengthAdjust="spacingAndGlyphs" fill="#231f20" transform="rotate(0.03 184.1 382.85)">–0.10</text>
<text x="184.1" y="391.35" font-size="8.8" textLength="21.2" lengthAdjust="spacingAndGlyphs" fill="#231f20" transform="rotate(0.03 184.1 391.35)">–0.20</text>
<text x="184.1" y="399.8" font-size="8.8" textLength="21.2" lengthAdjust="spacingAndGlyphs" fill="#231f20" transform="rotate(0.03 184.1 399.8)">–0.30</text>
<text x="184.1" y="408.3" font-size="8.8" textLength="21.2" lengthAdjust="spacingAndGlyphs" fill="#231f20" transform="rotate(0.03 184.1 408.3)">–0.40</text>
<text x="184.1" y="416.8" font-size="8.8" textLength="21.2" lengthAdjust="spacingAndGlyphs" fill="#231f20" transform="rotate(0.03 184.1 416.8)">–0.50</text>
<text x="184.1" y="425.25" font-size="8.8" textLength="21.2" lengthAdjust="spacingAndGlyphs" fill="#231f20" transform="rotate(0.03 184.1 425.25)">–0.60</text>
<text x="184.1" y="433.75" font-size="8.8" textLength="21.2" lengthAdjust="spacingAndGlyphs" fill="#231f20" transform="rotate(0.03 184.1 433.75)">–0.70</text>
<polyline points="209.5,371.7 210.9,372.7 212.2,373.6 213.6,374.2 214.9,375.0 216.3,376.1 217.7,377.0 219.0,377.8 220.4,378.6 221.7,379.5 223.1,380.4 224.4,381.3 225.8,382.0 227.2,382.9 228.5,383.8 229.9,384.8 231.2,385.7 232.6,386.6 233.9,387.3 235.3,388.1 236.7,389.0 238.0,389.8 239.4,390.6 240.7,391.6 242.1,392.5 243.1,391.6 245.0,392.7 247.0,392.1 248.0,393.1 249.4,393.8 250.8,394.7 252.2,395.6 253.6,396.3 255.0,397.1 256.3,397.8 257.7,398.6 259.1,399.5 260.5,400.2 261.9,401.1 263.3,402.1 264.7,402.8 266.1,403.5 267.5,404.5 268.9,405.3 270.3,406.0 271.7,406.9 273.0,407.7 274.4,408.5 275.8,409.1 277.2,410.1 278.6,410.9 280.0,411.6 281.5,412.3 282.9,413.2 284.4,414.0 285.8,414.7 287.3,415.5 288.7,416.3 290.2,417.2 291.6,417.9 293.1,418.8 294.5,419.4 296.0,420.3 297.4,421.1 298.9,421.8 300.3,422.6 301.8,423.5 303.2,424.2 304.7,424.9 306.1,425.5 307.6,426.5 309.5,425.5 311.5,426.5 314.4,425.7 316.4,424.8 318.3,424.2 321.2,425.1 323.1,424.6 324.4,423.3 325.7,421.4 327.0,420.3 327.6,419.0 328.3,416.8 328.9,415.4 329.1,413.8 329.4,411.4 329.6,410.0 329.9,407.7 331.8,407.7 332.1,406.3 332.5,404.5 332.8,402.9 333.1,401.4 333.5,399.7 333.8,398.0 334.2,396.2 334.6,394.4 335.0,393.0 335.5,391.7 335.9,389.8 336.3,387.6 336.7,386.3 337.3,384.7 338.0,382.6 338.6,380.5 339.1,379.2 339.6,376.8 340.1,375.6 340.6,373.7 341.1,371.4 341.6,369.8 343.5,371.2 344.9,370.4" fill="none" stroke="#2b8f36" stroke-width="0.9" stroke-linejoin="miter"/>
<text x="269.7" y="379.59999999999997" font-size="8.5" fill="#231f20" transform="rotate(0.03 269.7 380.2)">NES = –3.08</text>
<text x="269.7" y="390.0" font-size="8.5" fill="#231f20" transform="rotate(0.03 269.7 380.2)"><tspan font-style="italic">P</tspan> = 0.033</text>
<text x="223.5" y="468.9" font-size="8.7" textLength="16.6" lengthAdjust="spacingAndGlyphs" fill="#231f20" transform="rotate(0.03 223.5 468.9)">RUX</text>
<text x="317.5" y="468.9" font-size="8.7" textLength="17.6" lengthAdjust="spacingAndGlyphs" fill="#231f20" transform="rotate(0.03 317.5 468.9)">BMF</text>
<text x="386.9" y="351.8" font-size="8.5" textLength="125.9" lengthAdjust="spacingAndGlyphs" fill="#231f20" transform="rotate(0.03 386.9 351.8)">HALLMARK_MYC_TARGETS_V2</text>
<rect x="393.40" y="432.5" width="0.60" height="22" fill="#6e6e6e"/>
<rect x="405.00" y="432.5" width="0.60" height="22" fill="#6e6e6e"/>
<rect x="428.00" y="432.5" width="0.60" height="22" fill="#6e6e6e"/>
<rect x="439.00" y="432.5" width="0.60" height="22" fill="#6e6e6e"/>
<rect x="448.30" y="432.5" width="1.20" height="22" fill="#a0a0a0"/>
<rect x="454.90" y="432.5" width="1.00" height="22" fill="#6e6e6e"/>
<rect x="459.30" y="432.5" width="0.80" height="22" fill="#a0a0a0"/>
<rect x="462.60" y="432.5" width="1.00" height="22" fill="#6e6e6e"/>
<rect x="466.10" y="432.5" width="0.80" height="22" fill="#a0a0a0"/>
<rect x="472.80" y="432.5" width="1.60" height="22" fill="#6e6e6e"/>
<rect x="477.10" y="432.5" width="1.20" height="22" fill="#6e6e6e"/>
<rect x="480.40" y="432.5" width="0.80" height="22" fill="#a0a0a0"/>
<rect x="483.20" y="432.5" width="1.20" height="22" fill="#2b2b2b"/>
<rect x="487.60" y="432.5" width="1.60" height="22" fill="#a0a0a0"/>
<rect x="493.40" y="432.5" width="1.20" height="22" fill="#2b2b2b"/>
<rect x="495.00" y="432.5" width="8.00" height="22" fill="#a0a0a0"/>
<rect x="497.00" y="432.5" width="1.00" height="22" fill="#6e6e6e"/>
<rect x="500.00" y="432.5" width="1.00" height="22" fill="#6e6e6e"/>
<rect x="504.80" y="432.5" width="1.20" height="22" fill="#2b2b2b"/>
<rect x="507.10" y="432.5" width="1.20" height="22" fill="#6e6e6e"/>
<rect x="380.1" y="454" width="136.60" height="4.6" fill="url(#cb)"/>
<rect x="393.40" y="454" width="0.60" height="4.5" fill="#6e6e6e" opacity="0.28"/>
<rect x="405.00" y="454" width="0.60" height="4.5" fill="#6e6e6e" opacity="0.28"/>
<rect x="428.00" y="454" width="0.60" height="4.5" fill="#6e6e6e" opacity="0.28"/>
<rect x="439.00" y="454" width="0.60" height="4.5" fill="#6e6e6e" opacity="0.28"/>
<rect x="448.30" y="454" width="1.20" height="4.5" fill="#a0a0a0" opacity="0.28"/>
<rect x="454.90" y="454" width="1.00" height="4.5" fill="#6e6e6e" opacity="0.28"/>
<rect x="459.30" y="454" width="0.80" height="4.5" fill="#a0a0a0" opacity="0.28"/>
<rect x="462.60" y="454" width="1.00" height="4.5" fill="#6e6e6e" opacity="0.28"/>
<rect x="466.10" y="454" width="0.80" height="4.5" fill="#a0a0a0" opacity="0.28"/>
<rect x="472.80" y="454" width="1.60" height="4.5" fill="#6e6e6e" opacity="0.28"/>
<rect x="477.10" y="454" width="1.20" height="4.5" fill="#6e6e6e" opacity="0.28"/>
<rect x="480.40" y="454" width="0.80" height="4.5" fill="#a0a0a0" opacity="0.28"/>
<rect x="483.20" y="454" width="1.20" height="4.5" fill="#2b2b2b" opacity="0.28"/>
<rect x="487.60" y="454" width="1.60" height="4.5" fill="#a0a0a0" opacity="0.28"/>
<rect x="493.40" y="454" width="1.20" height="4.5" fill="#2b2b2b" opacity="0.28"/>
<rect x="495.00" y="454" width="8.00" height="4.5" fill="#a0a0a0" opacity="0.28"/>
<rect x="497.00" y="454" width="1.00" height="4.5" fill="#6e6e6e" opacity="0.28"/>
<rect x="500.00" y="454" width="1.00" height="4.5" fill="#6e6e6e" opacity="0.28"/>
<rect x="504.80" y="454" width="1.20" height="4.5" fill="#2b2b2b" opacity="0.28"/>
<rect x="507.10" y="454" width="1.20" height="4.5" fill="#6e6e6e" opacity="0.28"/>
<rect x="380.1" y="367.8" width="139.10" height="90.7" fill="none" stroke="#333" stroke-width="1.15"/>
<line x1="380.1" y1="432.5" x2="519.2" y2="432.5" stroke="#333" stroke-width="1.15"/>
<line x1="380.1" y1="375.2" x2="519.2" y2="375.2" stroke="#333" stroke-width="1.0"/>
<text x="359.0" y="378.25" font-size="8.8" textLength="17.3" lengthAdjust="spacingAndGlyphs" fill="#231f20" transform="rotate(0.03 359.0 378.25)">0.00</text>
<text x="355.1" y="388.35" font-size="8.8" textLength="21.2" lengthAdjust="spacingAndGlyphs" fill="#231f20" transform="rotate(0.03 355.1 388.35)">–0.10</text>
<text x="355.1" y="398.65" font-size="8.8" textLength="21.2" lengthAdjust="spacingAndGlyphs" fill="#231f20" transform="rotate(0.03 355.1 398.65)">–0.20</text>
<text x="355.1" y="408.95" font-size="8.8" textLength="21.2" lengthAdjust="spacingAndGlyphs" fill="#231f20" transform="rotate(0.03 355.1 408.95)">–0.30</text>
<text x="355.1" y="419.45" font-size="8.8" textLength="21.2" lengthAdjust="spacingAndGlyphs" fill="#231f20" transform="rotate(0.03 355.1 419.45)">–0.40</text>
<text x="355.1" y="429.75" font-size="8.8" textLength="21.2" lengthAdjust="spacingAndGlyphs" fill="#231f20" transform="rotate(0.03 355.1 429.75)">–0.50</text>
<polyline points="380.7,376.6 382.0,377.5 383.3,378.6 384.6,379.5 385.9,380.5 387.2,381.5 388.5,382.3 389.8,383.2 391.1,384.5 392.4,385.3 393.7,386.3 393.9,384.5 394.1,383.0 394.3,381.1 395.7,382.1 397.1,383.1 398.4,384.0 399.8,385.0 401.2,385.8 402.6,386.9 403.9,388.0 405.3,388.8 405.8,387.1 406.3,385.3 407.6,386.4 409.0,387.3 410.3,388.1 411.6,389.3 413.0,390.2 414.3,391.1 415.7,392.0 417.0,393.2 418.3,394.1 419.7,395.1 421.0,396.1 422.4,397.1 423.7,398.1 425.0,398.9 426.4,400.0 427.7,400.9 428.6,399.5 430.0,400.7 431.4,402.0 432.8,403.1 434.1,404.1 435.5,405.2 436.9,406.4 438.3,407.7 439.7,406.7 441.1,407.8 442.4,408.5 443.8,409.5 445.1,410.3 446.5,411.3 447.9,412.1 449.2,413.0 450.6,414.0 452.0,414.9 453.3,416.0 454.7,416.8 456.0,417.8 457.4,418.7 458.8,419.6 460.1,420.4 461.5,421.2 462.9,422.3 464.2,423.3 465.6,424.2 466.9,425.0 468.3,425.9 469.7,426.7 471.0,428.0 472.4,428.6 473.9,426.9 475.3,425.1 478.3,426.1 480.2,424.2 483.1,424.8 483.7,423.0 484.4,421.1 485.0,419.9 487.0,420.3 488.4,419.0 489.9,417.0 492.8,416.4 493.1,415.1 493.3,412.6 493.6,411.6 493.8,409.6 495.2,408.1 496.7,406.7 497.7,404.8 498.6,403.2 499.6,401.8 500.3,400.3 501.1,398.7 501.8,396.3 502.5,395.0 503.2,393.2 503.8,390.7 504.5,389.2 504.9,387.6 505.3,385.5 505.6,384.2 506.0,382.5 506.4,380.3 506.8,378.5 507.2,377.2 507.6,374.8 508.1,372.9 508.5,371.6 508.9,369.8 511.3,371.2 512.8,372.5 514.2,374.7 515.7,375.4 517.1,376.6" fill="none" stroke="#2b8f36" stroke-width="0.9" stroke-linejoin="miter"/>
<text x="436.5" y="383.9" font-size="8.5" fill="#231f20" transform="rotate(0.03 436.5 384.5)">NES = –2.37</text>
<text x="436.5" y="394.3" font-size="8.5" fill="#231f20" transform="rotate(0.03 436.5 384.5)"><tspan font-style="italic">P</tspan> = 0.019</text>
<text x="394.4" y="468.9" font-size="8.7" textLength="16.6" lengthAdjust="spacingAndGlyphs" fill="#231f20" transform="rotate(0.03 394.4 468.9)">RUX</text>
<text x="492.8" y="468.9" font-size="8.7" textLength="17.6" lengthAdjust="spacingAndGlyphs" fill="#231f20" transform="rotate(0.03 492.8 468.9)">BMF</text>
</g>
<g id="panelD">
<text x="0.0" y="507.0" font-size="11.3" font-weight="bold" textLength="9.2" lengthAdjust="spacingAndGlyphs" fill="#000" transform="rotate(0.03 0.0 507.0)">D</text>
<g stroke="#404040" stroke-width="0.85">
<line x1="170.75" y1="542" x2="165.75" y2="570.75"/>
<line x1="140.9" y1="590" x2="183" y2="591.75"/>
<line x1="140.9" y1="590" x2="165.75" y2="570.75"/>
<line x1="140.9" y1="590" x2="171.75" y2="618.5"/>
<line x1="140.9" y1="590" x2="195.2" y2="632.5"/>
<line x1="140.9" y1="590" x2="211.75" y2="613.25"/>
<line x1="140.9" y1="590" x2="134" y2="621.25"/>
<line x1="375.75" y1="682.5" x2="357.5" y2="657.5"/>
<line x1="342.5" y1="524.5" x2="402.5" y2="525.75"/>
<line x1="294.5" y1="648" x2="298.25" y2="618.25"/>
<line x1="294.5" y1="648" x2="321.25" y2="652.5"/>
<line x1="425" y1="583.25" x2="418.75" y2="559.5"/>
<line x1="425" y1="583.25" x2="440.75" y2="562"/>
<line x1="425" y1="583.25" x2="386.25" y2="569.25"/>
<line x1="425" y1="583.25" x2="410.5" y2="542.5"/>
<line x1="425" y1="583.25" x2="402.5" y2="525.75"/>
<line x1="425" y1="583.25" x2="403.25" y2="583.25"/>
<line x1="425" y1="583.25" x2="378.4" y2="588.9"/>
<line x1="425" y1="583.25" x2="431.25" y2="543.25"/>
<line x1="425" y1="583.25" x2="397.5" y2="621.75"/>
<line x1="425" y1="583.25" x2="380.75" y2="551.25"/>
<line x1="402.5" y1="668.75" x2="385.5" y2="649.25"/>
<line x1="111.9" y1="635.8" x2="90.7" y2="629.3"/>
<line x1="111.9" y1="635.8" x2="121.3" y2="658.2"/>
<line x1="111.9" y1="635.8" x2="93.2" y2="660"/>
<line x1="111.9" y1="635.8" x2="134" y2="621.25"/>
<line x1="111.9" y1="635.8" x2="64.2" y2="650"/>
<line x1="357.5" y1="657.5" x2="385.5" y2="649.25"/>
<line x1="423.25" y1="644.25" x2="385.5" y2="649.25"/>
<line x1="160.3" y1="639.4" x2="181.8" y2="656.7"/>
<line x1="418.75" y1="559.5" x2="440.75" y2="562"/>
<line x1="418.75" y1="559.5" x2="386.25" y2="569.25"/>
<line x1="418.75" y1="559.5" x2="410.5" y2="542.5"/>
<line x1="418.75" y1="559.5" x2="402.5" y2="525.75"/>
<line x1="418.75" y1="559.5" x2="403.25" y2="583.25"/>
<line x1="418.75" y1="559.5" x2="378.4" y2="588.9"/>
<line x1="418.75" y1="559.5" x2="431.25" y2="543.25"/>
<line x1="418.75" y1="559.5" x2="380.75" y2="551.25"/>
<line x1="440.75" y1="562" x2="386.25" y2="569.25"/>
<line x1="440.75" y1="562" x2="410.5" y2="542.5"/>
<line x1="440.75" y1="562" x2="402.5" y2="525.75"/>
<line x1="440.75" y1="562" x2="403.25" y2="583.25"/>
<line x1="440.75" y1="562" x2="378.4" y2="588.9"/>
<line x1="440.75" y1="562" x2="431.25" y2="543.25"/>
<line x1="440.75" y1="562" x2="380.75" y2="551.25"/>
<line x1="386.25" y1="569.25" x2="410.5" y2="542.5"/>
<line x1="386.25" y1="569.25" x2="402.5" y2="525.75"/>
<line x1="386.25" y1="569.25" x2="403.25" y2="583.25"/>
<line x1="386.25" y1="569.25" x2="378.4" y2="588.9"/>
<line x1="386.25" y1="569.25" x2="431.25" y2="543.25"/>
<line x1="386.25" y1="569.25" x2="292.5" y2="589.25"/>
<line x1="386.25" y1="569.25" x2="397.5" y2="621.75"/>
<line x1="386.25" y1="569.25" x2="380.75" y2="551.25"/>
<line x1="410.5" y1="542.5" x2="402.5" y2="525.75"/>
<line x1="410.5" y1="542.5" x2="403.25" y2="583.25"/>
<line x1="410.5" y1="542.5" x2="378.4" y2="588.9"/>
<line x1="410.5" y1="542.5" x2="431.25" y2="543.25"/>
<line x1="410.5" y1="542.5" x2="380.75" y2="551.25"/>
<line x1="298.25" y1="618.25" x2="271.25" y2="612"/>
<line x1="298.25" y1="618.25" x2="321.25" y2="628.75"/>
<line x1="298.25" y1="618.25" x2="195.2" y2="632.5"/>
<line x1="298.25" y1="618.25" x2="211.75" y2="613.25"/>
<line x1="298.25" y1="618.25" x2="331.75" y2="611.75"/>
<line x1="298.25" y1="618.25" x2="292.5" y2="589.25"/>
<line x1="298.25" y1="618.25" x2="272.5" y2="641.75"/>
<line x1="271.25" y1="612" x2="272.5" y2="641.75"/>
<line x1="321.25" y1="628.75" x2="331.75" y2="611.75"/>
<line x1="402.5" y1="525.75" x2="403.25" y2="583.25"/>
<line x1="402.5" y1="525.75" x2="378.4" y2="588.9"/>
<line x1="402.5" y1="525.75" x2="431.25" y2="543.25"/>
<line x1="402.5" y1="525.75" x2="292.5" y2="589.25"/>
<line x1="402.5" y1="525.75" x2="380.75" y2="551.25"/>
<line x1="402.5" y1="525.75" x2="377" y2="510"/>
<line x1="403.25" y1="583.25" x2="378.4" y2="588.9"/>
<line x1="403.25" y1="583.25" x2="431.25" y2="543.25"/>
<line x1="403.25" y1="583.25" x2="292.5" y2="589.25"/>
<line x1="403.25" y1="583.25" x2="397.5" y2="621.75"/>
<line x1="403.25" y1="583.25" x2="380.75" y2="551.25"/>
<line x1="378.4" y1="588.9" x2="431.25" y2="543.25"/>
<line x1="378.4" y1="588.9" x2="332.2" y2="582.5"/>
<line x1="378.4" y1="588.9" x2="292.5" y2="589.25"/>
<line x1="378.4" y1="588.9" x2="397.5" y2="621.75"/>
<line x1="378.4" y1="588.9" x2="380.75" y2="551.25"/>
<line x1="385.5" y1="649.25" x2="397.5" y2="621.75"/>
<line x1="134.5" y1="673" x2="98" y2="678.75"/>
<line x1="134.5" y1="673" x2="93.2" y2="660"/>
<line x1="431.25" y1="543.25" x2="380.75" y2="551.25"/>
<line x1="98" y1="678.75" x2="64.2" y2="650"/>
<line x1="183" y1="591.75" x2="165.75" y2="570.75"/>
<line x1="183" y1="591.75" x2="171.75" y2="618.5"/>
<line x1="183" y1="591.75" x2="205" y2="550"/>
<line x1="183" y1="591.75" x2="262.3" y2="584.8"/>
<line x1="183" y1="591.75" x2="195.2" y2="632.5"/>
<line x1="183" y1="591.75" x2="211.75" y2="613.25"/>
<line x1="183" y1="591.75" x2="134" y2="621.25"/>
<line x1="165.75" y1="570.75" x2="171.75" y2="618.5"/>
<line x1="165.75" y1="570.75" x2="205" y2="550"/>
<line x1="165.75" y1="570.75" x2="262.3" y2="584.8"/>
<line x1="165.75" y1="570.75" x2="195.2" y2="632.5"/>
<line x1="165.75" y1="570.75" x2="211.75" y2="613.25"/>
<line x1="165.75" y1="570.75" x2="134" y2="621.25"/>
<line x1="171.75" y1="618.5" x2="262.3" y2="584.8"/>
<line x1="171.75" y1="618.5" x2="195.2" y2="632.5"/>
<line x1="171.75" y1="618.5" x2="211.75" y2="613.25"/>
<line x1="171.75" y1="618.5" x2="134" y2="621.25"/>
<line x1="205" y1="550" x2="262.3" y2="584.8"/>
<line x1="262.3" y1="584.8" x2="195.2" y2="632.5"/>
<line x1="262.3" y1="584.8" x2="211.75" y2="613.25"/>
<line x1="262.3" y1="584.8" x2="292.5" y2="589.25"/>
<line x1="195.2" y1="632.5" x2="211.75" y2="613.25"/>
<line x1="195.2" y1="632.5" x2="134" y2="621.25"/>
<line x1="211.75" y1="613.25" x2="134" y2="621.25"/>
<line x1="206.3" y1="661.2" x2="225" y2="642.5"/>
<line x1="90.7" y1="629.3" x2="121.3" y2="658.2"/>
<line x1="90.7" y1="629.3" x2="93.2" y2="660"/>
<line x1="90.7" y1="629.3" x2="134" y2="621.25"/>
<line x1="90.7" y1="629.3" x2="64.2" y2="650"/>
<line x1="121.3" y1="658.2" x2="93.2" y2="660"/>
<line x1="121.3" y1="658.2" x2="134" y2="621.25"/>
<line x1="121.3" y1="658.2" x2="64.2" y2="650"/>
<line x1="93.2" y1="660" x2="134" y2="621.25"/>
<line x1="93.2" y1="660" x2="64.2" y2="650"/>
<line x1="332.2" y1="582.5" x2="292.5" y2="589.25"/>
<line x1="134" y1="621.25" x2="64.2" y2="650"/>
<line x1="331.75" y1="611.75" x2="292.5" y2="589.25"/>
<line x1="292.5" y1="589.25" x2="397.5" y2="621.75"/>
<line x1="292.5" y1="589.25" x2="380.75" y2="551.25"/>
<line x1="397.5" y1="621.75" x2="380.75" y2="551.25"/>
</g>
<circle cx="170.75" cy="542" r="8.1" fill="#3fa5dc"/>
<circle cx="205" cy="550" r="8.1" fill="#e0007f"/>
<circle cx="165.75" cy="570.75" r="8.1" fill="#e0007f"/>
<circle cx="262.3" cy="584.8" r="8.1" fill="#e0007f"/>
<circle cx="140.9" cy="590" r="8.1" fill="#3fa5dc"/>
<circle cx="183" cy="591.75" r="8.1" fill="#3fa5dc"/>
<circle cx="134" cy="621.25" r="8.1" fill="#3fa5dc"/>
<circle cx="171.75" cy="618.5" r="8.1" fill="#e0007f"/>
<circle cx="211.75" cy="613.25" r="8.1" fill="#e0007f"/>
<circle cx="195.2" cy="632.5" r="8.1" fill="#e0007f"/>
<circle cx="90.7" cy="629.3" r="8.1" fill="#3fa5dc"/>
<circle cx="111.9" cy="635.8" r="8.1" fill="#3fa5dc"/>
<circle cx="160.3" cy="639.4" r="8.1" fill="#3fa5dc"/>
<circle cx="225" cy="642.5" r="8.1" fill="#e0007f"/>
<circle cx="64.2" cy="650" r="8.1" fill="#e0007f"/>
<circle cx="93.2" cy="660" r="8.1" fill="#3fa5dc"/>
<circle cx="121.3" cy="658.2" r="8.1" fill="#3fa5dc"/>
<circle cx="181.8" cy="656.7" r="8.1" fill="#3fa5dc"/>
<circle cx="206.3" cy="661.2" r="8.1" fill="#e0007f"/>
<circle cx="134.5" cy="673" r="8.1" fill="#3fa5dc"/>
<circle cx="98" cy="678.75" r="8.1" fill="#e0007f"/>
<circle cx="377" cy="510" r="8.1" fill="#e0007f"/>
<circle cx="342.5" cy="524.5" r="8.1" fill="#e0007f"/>
<circle cx="402.5" cy="525.75" r="8.1" fill="#e0007f"/>
<circle cx="410.5" cy="542.5" r="8.1" fill="#e0007f"/>
<circle cx="431.25" cy="543.25" r="8.1" fill="#e0007f"/>
<circle cx="380.75" cy="551.25" r="8.1" fill="#e0007f"/>
<circle cx="418.75" cy="559.5" r="8.1" fill="#e0007f"/>
<circle cx="440.75" cy="562" r="8.1" fill="#e0007f"/>
<circle cx="386.25" cy="569.25" r="8.1" fill="#e0007f"/>
<circle cx="403.25" cy="583.25" r="8.1" fill="#e0007f"/>
<circle cx="425" cy="583.25" r="8.1" fill="#e0007f"/>
<circle cx="378.4" cy="588.9" r="8.1" fill="#3fa5dc"/>
<circle cx="332.2" cy="582.5" r="8.1" fill="#3fa5dc"/>
<circle cx="292.5" cy="589.25" r="8.1" fill="#3fa5dc"/>
<circle cx="331.75" cy="611.75" r="8.1" fill="#3fa5dc"/>
<circle cx="271.25" cy="612" r="8.1" fill="#3fa5dc"/>
<circle cx="298.25" cy="618.25" r="8.1" fill="#3fa5dc"/>
<circle cx="321.25" cy="628.75" r="8.1" fill="#3fa5dc"/>
<circle cx="397.5" cy="621.75" r="8.1" fill="#3fa5dc"/>
<circle cx="272.5" cy="641.75" r="8.1" fill="#3fa5dc"/>
<circle cx="294.5" cy="648" r="8.1" fill="#3fa5dc"/>
<circle cx="321.25" cy="652.5" r="8.1" fill="#3fa5dc"/>
<circle cx="385.5" cy="649.25" r="8.1" fill="#3fa5dc"/>
<circle cx="423.25" cy="644.25" r="8.1" fill="#3fa5dc"/>
<circle cx="357.5" cy="657.5" r="8.1" fill="#3fa5dc"/>
<circle cx="402.5" cy="668.75" r="8.1" fill="#3fa5dc"/>
<circle cx="375.75" cy="682.5" r="8.1" fill="#3fa5dc"/>
<g font-weight="bold" font-size="8.3" fill="#000">
<text x="145.5" y="543.80" textLength="28.20" lengthAdjust="spacingAndGlyphs" transform="rotate(0.03 145.5 543.80)">ACTN2</text>
<text x="201.3" y="552.80" textLength="28.90" lengthAdjust="spacingAndGlyphs" transform="rotate(0.03 201.3 552.80)">PSMB8</text>
<text x="141" y="573.70" textLength="29.00" lengthAdjust="spacingAndGlyphs" transform="rotate(0.03 141 573.70)">PSMB3</text>
<text x="238" y="575.50" textLength="29.00" lengthAdjust="spacingAndGlyphs" transform="rotate(0.03 238 575.50)">PSMB9</text>
<text x="117" y="595.00" textLength="25.00" lengthAdjust="spacingAndGlyphs" transform="rotate(0.03 117 595.00)">BLMH</text>
<text x="174.4" y="594.30" textLength="33.60" lengthAdjust="spacingAndGlyphs" transform="rotate(0.03 174.4 594.30)">PSMB10</text>
<text x="106.25" y="614.25" textLength="31.75" lengthAdjust="spacingAndGlyphs" transform="rotate(0.03 106.25 614.25)">SEC61B</text>
<text x="155.75" y="621.25" textLength="28.75" lengthAdjust="spacingAndGlyphs" transform="rotate(0.03 155.75 621.25)">PSMB5</text>
<text x="204.5" y="618.00" textLength="28.00" lengthAdjust="spacingAndGlyphs" transform="rotate(0.03 204.5 618.00)">PSME2</text>
<text x="180.75" y="636.50" textLength="28.50" lengthAdjust="spacingAndGlyphs" transform="rotate(0.03 180.75 636.50)">PSME1</text>
<text x="66.25" y="633.00" textLength="25.75" lengthAdjust="spacingAndGlyphs" transform="rotate(0.03 66.25 633.00)">RPL18</text>
<text x="109.25" y="638.75" textLength="17.00" lengthAdjust="spacingAndGlyphs" transform="rotate(0.03 109.25 638.75)">FAU</text>
<text x="144.5" y="643.00" textLength="22.00" lengthAdjust="spacingAndGlyphs" transform="rotate(0.03 144.5 643.00)">HCST</text>
<text x="220" y="646.75" textLength="20.75" lengthAdjust="spacingAndGlyphs" transform="rotate(0.03 220 646.75)">RMI2</text>
<text x="80" y="663.00" textLength="25.50" lengthAdjust="spacingAndGlyphs" transform="rotate(0.03 80 663.00)">RPL41</text>
<text x="118" y="661.75" textLength="25.75" lengthAdjust="spacingAndGlyphs" transform="rotate(0.03 118 661.75)">RPL34</text>
<text x="166.75" y="661.75" textLength="26.50" lengthAdjust="spacingAndGlyphs" transform="rotate(0.03 166.75 661.75)">KLRK1</text>
<text x="202.5" y="668.00" textLength="20.75" lengthAdjust="spacingAndGlyphs" transform="rotate(0.03 202.5 668.00)">RFA3</text>
<text x="130" y="677.25" textLength="28.75" lengthAdjust="spacingAndGlyphs" transform="rotate(0.03 130 677.25)">NUP37</text>
<text x="78.75" y="682.25" textLength="23.00" lengthAdjust="spacingAndGlyphs" transform="rotate(0.03 78.75 682.25)">PMF1</text>
<text x="372.5" y="513.00" textLength="20.50" lengthAdjust="spacingAndGlyphs" transform="rotate(0.03 372.5 513.00)">ZBP1</text>
<text x="326" y="528.00" textLength="20.25" lengthAdjust="spacingAndGlyphs" transform="rotate(0.03 326 528.00)">BST2</text>
<text x="398.75" y="528.75" textLength="16.75" lengthAdjust="spacingAndGlyphs" transform="rotate(0.03 398.75 528.75)">IRF7</text>
<text x="397.5" y="545.50" textLength="21.25" lengthAdjust="spacingAndGlyphs" transform="rotate(0.03 397.5 545.50)">IFIT3</text>
<text x="429.25" y="547.25" textLength="23.25" lengthAdjust="spacingAndGlyphs" transform="rotate(0.03 429.25 547.25)">OAS3</text>
<text x="367.5" y="553.50" textLength="21.75" lengthAdjust="spacingAndGlyphs" transform="rotate(0.03 367.5 553.50)">XAF1</text>
<text x="406.75" y="563.00" textLength="20.00" lengthAdjust="spacingAndGlyphs" transform="rotate(0.03 406.75 563.00)">IFI27</text>
<text x="438" y="566.75" textLength="20.25" lengthAdjust="spacingAndGlyphs" transform="rotate(0.03 438 566.75)">IFI35</text>
<text x="371.75" y="573.00" textLength="19.50" lengthAdjust="spacingAndGlyphs" transform="rotate(0.03 371.75 573.00)">IFIT1</text>
<text x="387.5" y="587.25" textLength="23.75" lengthAdjust="spacingAndGlyphs" transform="rotate(0.03 387.5 587.25)">ISG15</text>
<text x="421.25" y="588.00" textLength="22.50" lengthAdjust="spacingAndGlyphs" transform="rotate(0.03 421.25 588.00)">DASL</text>
<text x="366.25" y="596.00" textLength="18.00" lengthAdjust="spacingAndGlyphs" transform="rotate(0.03 366.25 596.00)">MX1</text>
<text x="322.5" y="597.20" textLength="38.00" lengthAdjust="spacingAndGlyphs" transform="rotate(0.03 322.5 597.20)">S100A10</text>
<text x="280" y="579.25" textLength="23.75" lengthAdjust="spacingAndGlyphs" transform="rotate(0.03 280 579.25)">STAT1</text>
<text x="325.75" y="615.50" textLength="28.00" lengthAdjust="spacingAndGlyphs" transform="rotate(0.03 325.75 615.50)">SOCS1</text>
<text x="255.5" y="615.50" textLength="28.25" lengthAdjust="spacingAndGlyphs" transform="rotate(0.03 255.5 615.50)">IL18R1</text>
<text x="287.5" y="621.75" textLength="20.50" lengthAdjust="spacingAndGlyphs" transform="rotate(0.03 287.5 621.75)">IFNG</text>
<text x="318.25" y="635.50" textLength="23.75" lengthAdjust="spacingAndGlyphs" transform="rotate(0.03 318.25 635.50)">IL3RA</text>
<text x="393.25" y="626.25" textLength="26.25" lengthAdjust="spacingAndGlyphs" transform="rotate(0.03 393.25 626.25)">USP18</text>
<text x="251.75" y="646.75" textLength="24.00" lengthAdjust="spacingAndGlyphs" transform="rotate(0.03 251.75 646.75)">STAT4</text>
<text x="282" y="657.25" textLength="23.50" lengthAdjust="spacingAndGlyphs" transform="rotate(0.03 282 657.25)">CD3D</text>
<text x="317" y="658.50" textLength="14.75" lengthAdjust="spacingAndGlyphs" transform="rotate(0.03 317 658.50)">LAT</text>
<text x="373.25" y="653.00" textLength="24.25" lengthAdjust="spacingAndGlyphs" transform="rotate(0.03 373.25 653.00)">NME1</text>
<text x="418.25" y="647.50" textLength="26.25" lengthAdjust="spacingAndGlyphs" transform="rotate(0.03 418.25 647.50)">GZMA</text>
<text x="342" y="663.50" textLength="33.00" lengthAdjust="spacingAndGlyphs" transform="rotate(0.03 342 663.50)">FKBP1A</text>
<text x="395.5" y="672.25" textLength="17.75" lengthAdjust="spacingAndGlyphs" transform="rotate(0.03 395.5 672.25)">DUT</text>
<text x="358" y="690.50" textLength="28.25" lengthAdjust="spacingAndGlyphs" transform="rotate(0.03 358 690.50)">BOLA2</text>
</g>
<circle cx="215.1" cy="696.9" r="6.8" fill="#3fa5dc"/>
<circle cx="215.1" cy="714.3" r="6.8" fill="#e0007f"/>
<text x="228.2" y="700.1" font-size="8.6" textLength="68.8" lengthAdjust="spacingAndGlyphs" fill="#2e2e2e" transform="rotate(0.03 228.2 700.1)">Immune response</text>
<text x="228.2" y="717.5" font-size="8.6" textLength="36.8" lengthAdjust="spacingAndGlyphs" fill="#2e2e2e" transform="rotate(0.03 228.2 717.5)">Cell cycle</text>
</g>
</svg>
</body>
</html>
